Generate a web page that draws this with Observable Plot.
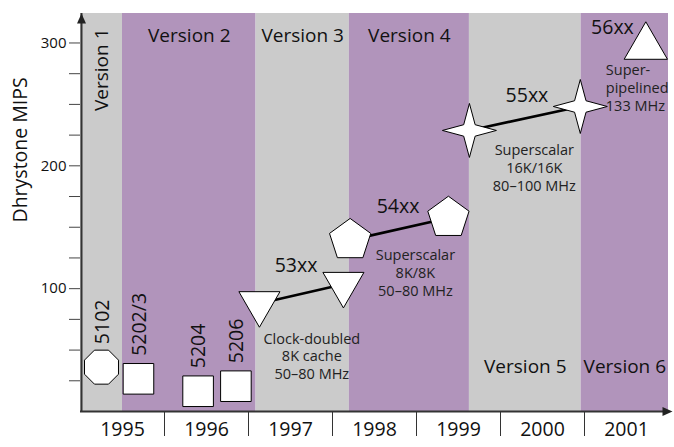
<!DOCTYPE html>
<html><head><meta charset="utf-8">
<script src="https://cdn.jsdelivr.net/npm/d3@7"></script>
<script src="https://cdn.jsdelivr.net/npm/@observablehq/plot@0.6"></script>
<style>body{margin:0;background:#fff} svg{display:block}</style>
</head><body><div id="chart"></div>
<script>
// ---------- data ----------
const years = [1995, 1996, 1997, 1998, 1999, 2000, 2001];
const yTicks = [25, 50, 75, 100, 125, 150, 175, 200, 225, 250, 275, 300];
const yLabelTicks = [100, 200, 300];

const versionNames = ["Version 1", "Version 2", "Version 3", "Version 4", "Version 5", "Version 6"];
const versionStart = [1995, 1995.5, 1997.09, 1998.2, 1999.63, 2000.96];
const versionEnd   = [1995.5, 1997.09, 1998.2, 1999.63, 2000.96, 2002];

const seriesNames  = ["5102", "5202/3", "5204", "5206", "53xx", "54xx", "55xx", "56xx"];
const seriesShapes = ["octagon", "square", "square", "square", "triangleDown", "pentagon", "star4", "triangleUp"];

const pointSeries = ["5102", "5202/3", "5204", "5206", "53xx", "53xx", "54xx", "54xx", "55xx", "55xx", "56xx"];
const pointYear   = [1995.25, 1995.69, 1996.40, 1996.85, 1997.13, 1998.13, 1998.21, 1999.38, 1999.63, 2000.95, 2001.73];
const pointMips   = [36.1, 26.6, 16.5, 20.6, 87.9, 103.6, 139.5, 157.6, 228.8, 248.3, 296.9];

const noteSeries = ["53xx", "54xx", "55xx", "56xx"];
const noteTexts  = [
  "Clock-doubled\n8K cache\n50–80 MHz",
  "Superscalar\n8K/8K\n50–80 MHz",
  "Superscalar\n16K/16K\n80–100 MHz",
  "Super-\npipelined\n133 MHz"
];

// ---------- derived tables ----------
const bands = versionNames.map((name, i) => ({name, i, start: versionStart[i], end: versionEnd[i]}));
const shapeOf = Object.fromEntries(seriesNames.map((s, i) => [s, seriesShapes[i]]));
const points = pointSeries.map((s, i) => ({series: s, year: pointYear[i], mips: pointMips[i], shape: shapeOf[s]}));
const lastPoint = s => points.filter(p => p.series === s).at(-1);

// ---------- layout / style ----------
const FONT = "'Open Sans', 'DejaVu Sans', sans-serif";
const GRAY = "#cbcbcb", PURPLE = "#b194bb";
const xDomain = [1995, 2002], yDomain = [0, 324];

function polySymbol(pts) {
  return {draw(ctx, size) {
    const R = Math.sqrt(size / Math.PI);
    pts.forEach(([x, y], i) => i ? ctx.lineTo(x * R, y * R) : ctx.moveTo(x * R, y * R));
    ctx.closePath();
  }};
}
const deg = Math.PI / 180;
const ring = (n, a0, rad = () => 1) => d3.range(n).map(k => {
  const a = (a0 + k * 360 / n) * deg, r = rad(k);
  return [r * Math.cos(a), r * Math.sin(a)];
});
const symbols = {
  octagon: polySymbol(ring(8, 22.5)),
  square: polySymbol([[-1, -1], [1, -1], [1, 1], [-1, 1]]),
  triangleDown: polySymbol(ring(3, 90)),
  triangleUp: polySymbol(ring(3, -90)),
  pentagon: polySymbol(ring(5, -90)),
  star4: polySymbol(ring(8, -90, k => k % 2 ? 0.3 : 1)),
  arrowUp: polySymbol([[0, 0], [0.45, 1], [-0.45, 1]]),
  arrowRight: polySymbol([[0.4, 0], [-0.6, 0.45], [-0.6, -0.45]])
};
const symbolR = {octagon: 18.4, square: 15.3, triangleDown: 23.7, triangleUp: 25, pentagon: 21.7, star4: 27};

const rotatedLabelSeries = seriesNames.slice(0, 4);
const labelOffset = {"53xx": [-26, -12], "54xx": [-29, -5], "55xx": [-32, -4], "56xx": [-12, -13]};
const noteOffset = {"53xx": [-31.6, 46.5, "middle"], "54xx": [-33, 29.8, "middle"], "55xx": [-46, 36.2, "middle"], "56xx": [-40, 15.9, "start"]};

const uniqueShapes = [...new Set(seriesShapes)];

const chart = Plot.plot({
  width: 674, height: 447,
  marginLeft: 80, marginRight: 6, marginTop: 13, marginBottom: 36,
  style: {fontFamily: FONT, background: "#fff", color: "#111"},
  x: {domain: xDomain},
  y: {domain: yDomain},
  marks: [
    // version bands
    Plot.rect(bands, {x1: "start", x2: "end", fill: d => d.i % 2 ? PURPLE : GRAY}),
    // version labels
    Plot.text(bands.filter(d => d.i === 0), {x: d => (d.start + d.end) / 2, text: "name", frameAnchor: "top",
      rotate: -90, textAnchor: "end", lineAnchor: "middle", dy: 15, fontSize: 19}),
    Plot.text(bands.filter(d => d.i >= 1 && d.i <= 3), {x: d => (d.start + d.end) / 2, text: "name", frameAnchor: "top",
      lineAnchor: "top", dy: 15, fontSize: 19}),
    Plot.text(bands.filter(d => d.i >= 4), {x: d => (d.start + d.end) / 2, text: "name", frameAnchor: "bottom",
      lineAnchor: "bottom", dy: -39, fontSize: 19}),
    // axes
    Plot.axisY({ticks: yTicks, tickSize: 11, tickPadding: 3, stroke: "#444",
      tickFormat: d => yLabelTicks.includes(d) ? String(d) : "", fontSize: 15, label: null}),
    Plot.axisX({ticks: years.slice(1), tickSize: 25, tickFormat: () => "", stroke: "#333", label: null}),
    Plot.axisX({ticks: years.map(y => y + 0.5), tickSize: 0, tickPadding: 11,
      tickFormat: d => String(Math.floor(d)), fontSize: 19.5, label: null}),
    Plot.ruleX([xDomain[0]], {stroke: "#333", strokeWidth: 2, dx: 1}),
    Plot.ruleY([yDomain[0]], {stroke: "#333", strokeWidth: 2}),
    Plot.dot([[xDomain[0], yDomain[1]]], {x: d => d[0], y: d => d[1], symbol: symbols.arrowUp, r: 10, fill: "#222", stroke: null, dx: 1}),
    Plot.dot([[xDomain[1], yDomain[0]]], {x: d => d[0], y: d => d[1], symbol: symbols.arrowRight, r: 10, fill: "#222", stroke: null}),
    Plot.text(["Dhrystone MIPS"], {frameAnchor: "left", rotate: -90, lineAnchor: "middle", dx: -60, dy: 10, fontSize: 19.5}),
    // connecting lines
    Plot.line(points, {x: "year", y: "mips", z: "series", stroke: "#000", strokeWidth: 2.6}),
    // markers
    ...uniqueShapes.map(sh => Plot.dot(points.filter(p => p.shape === sh), {
      x: "year", y: "mips", symbol: symbols[sh], r: symbolR[sh], fill: "#fff", stroke: "#000", strokeWidth: 1})),
    // rotated labels
    Plot.text(points.filter(p => rotatedLabelSeries.includes(p.series)), {x: "year", y: "mips", text: "series",
      rotate: -90, textAnchor: "start", lineAnchor: "middle", dx: 1, dy: -23, fontSize: 19.5}),
    // series labels
    ...Object.keys(labelOffset).map(s => Plot.text([lastPoint(s)], {x: "year", y: "mips", text: "series",
      textAnchor: "end", lineAnchor: "bottom", dx: labelOffset[s][0], dy: labelOffset[s][1], fontSize: 19.5})),
    // notes
    ...noteSeries.map((s, i) => Plot.text([lastPoint(s)], {x: "year", y: "mips", text: () => noteTexts[i],
      textAnchor: noteOffset[s][2], lineAnchor: "top", lineHeight: 1.24,
      dx: noteOffset[s][0], dy: noteOffset[s][1], fontSize: 14.5, fill: "#222"}))
  ]
});
document.getElementById("chart").append(chart);
</script>
</body></html>
